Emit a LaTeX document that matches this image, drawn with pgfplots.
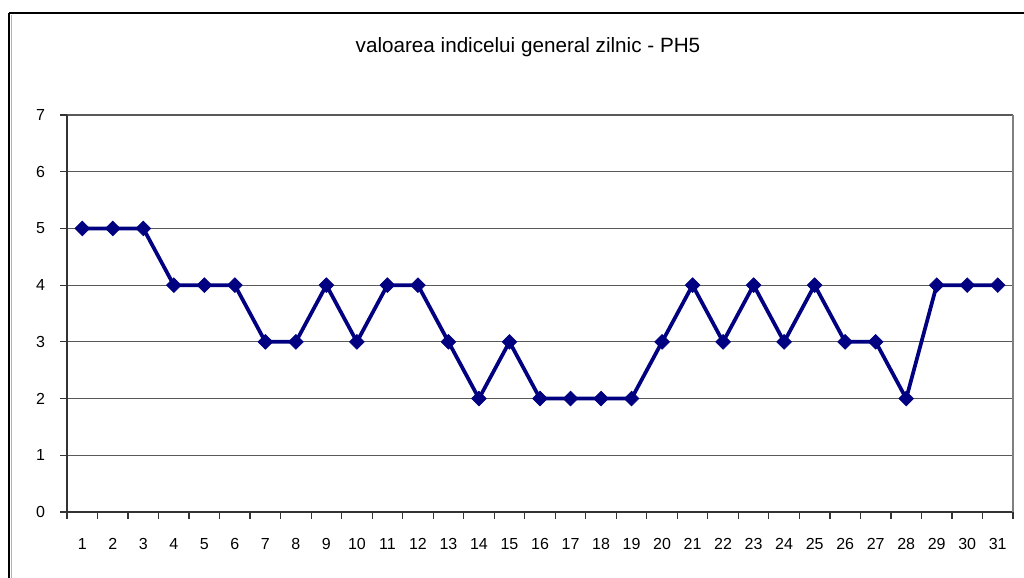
\documentclass[border=0pt]{standalone}
\usepackage{pgfplots}
\pgfplotsset{compat=1.18}
\usepackage{fontspec}
\setmainfont{Liberation Sans}
\definecolor{navy}{HTML}{000080}
\begin{document}
\begin{tikzpicture}
\useasboundingbox (0,0) rectangle (768pt,433.5pt);
\fill[white] (0,0) rectangle (768pt,433.5pt);
\draw[black, line width=2pt] (6.75pt,423.75pt) -- (780pt,423.75pt);
\draw[black, line width=2pt] (6.75pt,423.75pt) -- (6.75pt,-10pt);
\draw[gray!60, line width=0.8pt] (8.6pt,422pt) -- (8.6pt,-10pt);
\node[font=\fontsize{15.5}{17}\selectfont] at (396pt,398.25pt) {valoarea indicelui general zilnic - PH5};
\begin{axis}[
  at={(50.25pt,49.5pt)}, anchor=south west,
  scale only axis, width=709.5pt, height=297.75pt,
  xmin=0.5, xmax=31.5, ymin=0, ymax=7,
  axis x line=bottom, axis y line=left,
  axis line style={-, black!80, line width=1pt},
  xtick={1,...,31}, major x tick style={draw=none},
  minor xtick={0.5,1.5,...,31.5},
  ytick={0,...,7},
  tick align=outside, major tick length=5pt, minor tick length=5pt,
  tick style={black!80, line width=0.9pt},
  ymajorgrids, grid style={black!65, line width=0.8pt},
  tick label style={font=\fontsize{12}{14}\selectfont},
  /pgf/number format/assume math mode=true,
  xticklabel style={yshift=-11pt},
  yticklabel style={xshift=-8pt},
  clip=false,
]
\addplot[navy, line width=2.8pt, mark=square*, mark size=3.9pt,
  mark options={rotate=45, solid, fill=navy, draw=navy, line width=0.5pt}]
  coordinates {
  (1,5) (2,5) (3,5) (4,4) (5,4) (6,4) (7,3) (8,3) (9,4) (10,3)
  (11,4) (12,4) (13,3) (14,2) (15,3) (16,2) (17,2) (18,2) (19,2) (20,3)
  (21,4) (22,3) (23,4) (24,3) (25,4) (26,3) (27,3) (28,2) (29,4) (30,4) (31,4)
  };
\draw[black!50, line width=1pt] (rel axis cs:1,0) -- (rel axis cs:1,1);
\end{axis}
\end{tikzpicture}
\end{document}
